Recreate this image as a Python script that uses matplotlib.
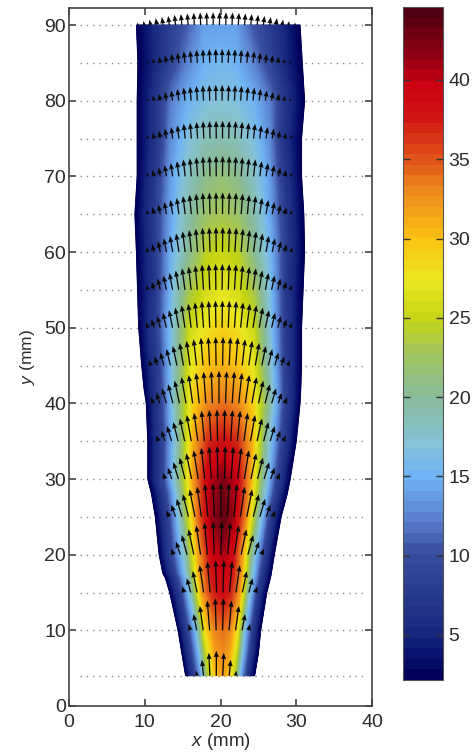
import numpy as np
import matplotlib
matplotlib.use("Agg")
import matplotlib.pyplot as plt
from matplotlib.colors import LinearSegmentedColormap, ListedColormap, Normalize
from matplotlib.cm import ScalarMappable

plt.rcParams['font.family'] = ['Liberation Sans', 'DejaVu Sans']
plt.rcParams['mathtext.fontset'] = 'custom'
plt.rcParams['mathtext.it'] = 'Liberation Sans:italic'
plt.rcParams['mathtext.rm'] = 'Liberation Sans'

# outline of the jet
edge_y = [4, 7, 10, 15, 17, 17.5, 20, 25, 28, 30, 35, 40, 42, 45, 50, 60, 65, 70, 75, 80, 85, 90]
edge_left = [15.4, 14.9, 14.4, 13.3, 12.7, 12.4, 11.9, 11.4, 10.9, 10.4, 10.4, 10.2, 9.9, 9.6, 9.2, 8.9, 8.7, 9.0, 9.0, 9.0, 9.1, 8.9]
edge_right = [24.5, 25.0, 25.3, 26.1, 26.6, 26.7, 27.1, 28.0, 28.8, 29.2, 30.0, 30.5, 30.6, 30.7, 30.7, 31.1, 31.0, 30.7, 30.7, 31.1, 30.8, 30.5]
center_y = [4, 30, 60, 90]
center_x = [20.3, 20.4, 20.3, 20.0]

# field values across the jet, from left edge (-1) to right edge (+1)
field_u = [-1.0, -0.8, -0.6, -0.4, -0.2, 0.0, 0.2, 0.4, 0.6, 0.8, 1.0]
field_y = [4, 10, 15, 20, 25, 30, 35, 40, 45, 50, 55, 60, 65, 70, 75, 80, 85, 90]
field = [
    [2, 7, 14, 24, 30, 32, 30, 24, 14, 7, 2],
    [2, 8, 16, 28, 33, 34, 33, 28, 16, 8, 2],
    [2, 8, 18, 32, 37, 39, 37, 32, 18, 8, 2],
    [2, 9, 18, 31, 39, 41, 39, 31, 18, 9, 2],
    [2, 9, 20, 33, 41, 44, 41, 33, 20, 9, 2],
    [2, 9, 20, 32, 40, 42.5, 40, 32, 20, 9, 2],
    [2, 9, 19, 31, 37, 38.5, 37, 31, 19, 9, 2],
    [2, 9, 20, 29, 33, 34, 33, 29, 20, 9, 2],
    [2, 8, 18, 27, 30, 31, 30, 27, 18, 8, 2],
    [2, 8, 17, 25.5, 28, 29, 28, 25.5, 17, 8, 2],
    [2, 7, 16, 23, 26, 27, 26, 23, 16, 7, 2],
    [2, 7, 15, 20, 24.5, 25.5, 24.5, 20, 15, 7, 2],
    [2, 7, 14, 19, 22, 23, 22, 19, 14, 7, 2],
    [2, 7, 14, 18, 20.5, 21.5, 20.5, 18, 14, 7, 2],
    [2, 6, 13, 16.5, 18.5, 19, 18.5, 16.5, 13, 6, 2],
    [2, 6, 12, 15, 16.5, 17, 16.5, 15, 12, 6, 2],
    [2, 5, 9, 12.5, 15, 15.5, 15, 12.5, 9, 5, 2],
    [2, 5, 8, 10.5, 14, 14, 14, 10.5, 8, 5, 2],
]

# arrow rows
arrow_y = [4, 10, 15, 20, 25, 30, 35, 40, 45, 50, 55, 60, 65, 70, 75, 80, 85, 90]
arrow_left = [16.9, 16.0, 15.2, 13.8, 13.2, 12.7, 11.8, 11.1, 10.8, 10.4, 10.4, 10.4, 10.4, 10.4, 10.4, 10.4, 10.4, 9.1]
arrow_right = [22.0, 23.7, 24.6, 25.4, 26.9, 27.5, 28.3, 28.5, 28.9, 29.2, 29.2, 29.3, 29.3, 29.3, 29.3, 29.2, 29.2, 29.8]
arrow_count = [7, 10, 12, 14, 17, 18, 20, 21, 22, 24, 24, 24, 24, 24, 24, 24, 24, 26]
arrow_peak = [3.3, 4.3, 4.3, 4.4, 4.5, 4.4, 4.2, 4.3, 3.8, 3.6, 3.45, 3.3, 2.9, 2.7, 2.35, 2.1, 1.85, 1.7]
arrow_tilt = [8, 14, 18, 22, 22, 22, 21, 20, 19, 18, 16, 15, 14, 13, 12, 12, 12, 12]
profile_w = [0.0, 0.25, 0.5, 0.75, 1.0]
profile_len = [1.0, 0.97, 0.82, 0.55, 0.2]

# dotted guide lines
dotted_y = [4, 10, 15, 20, 25, 30, 35, 40, 45, 50, 55, 60, 65, 70, 75, 80, 85, 90]

# colorbar
cb_ticks = [5, 10, 15, 20, 25, 30, 35, 40]
vmin, vmax = 2.16, 44.6
cmap_vals = [2.16, 3.5, 5, 8, 10, 12, 15, 17, 20, 23, 25, 27.5, 30, 33, 35, 38, 40, 42, 44.6]
cmap_cols = ['#00005a', '#0a1470', '#1a2a80', '#2c3f92', '#3a4f9f', '#5a7fcf', '#6fb4f5', '#86c3d8', '#88bb9a',
             '#a6c755', '#c4d414', '#ebe820', '#fbc311', '#ee8b1d', '#e25a1a', '#cf1414', '#cc0011', '#8c0014', '#500010']

smooth = LinearSegmentedColormap.from_list(
    'jetlike', [((v - vmin) / (vmax - vmin), c) for v, c in zip(cmap_vals, cmap_cols)])
cmap = ListedColormap(smooth(np.linspace(0, 1, 64)))
norm = Normalize(vmin, vmax)

W, H = 474, 753
fig = plt.figure(figsize=(W / 100, H / 100), dpi=100)
ax = fig.add_axes([69 / W, 1 - 706 / H, 303 / W, 698 / H])
cax = fig.add_axes([403 / W, 1 - 680 / H, 40 / W, 673 / H])

ax.hlines(dotted_y, 1.5, 39, color='#8a8a8a', linestyle=(0, (1, 3.5)), linewidth=1.0, zorder=1)

# resample the table on a fine mesh inside the outline
field = np.array(field, dtype=float)
yy = np.linspace(edge_y[0], edge_y[-1], 350)
uu = np.linspace(-1, 1, 161)
by_u = np.array([np.interp(uu, field_u, row) for row in field])
fine = np.array([np.interp(yy, field_y, by_u[:, j]) for j in range(len(uu))]).T
left = np.interp(yy, edge_y, edge_left)
right = np.interp(yy, edge_y, edge_right)
mid = np.interp(yy, center_y, center_x)
X = np.where(uu[None, :] < 0,
             mid[:, None] + uu[None, :] * (mid - left)[:, None],
             mid[:, None] + uu[None, :] * (right - mid)[:, None])
Y = np.repeat(yy[:, None], len(uu), axis=1)
ax.pcolormesh(X, Y, fine, cmap=smooth, norm=norm, shading='gouraud', zorder=2)

# arrows
qx, qy, qu, qv = [], [], [], []
for y, l, r, n, peak, tilt in zip(arrow_y, arrow_left, arrow_right, arrow_count, arrow_peak, arrow_tilt):
    xs = np.linspace(l, r, n)
    w = (xs - (l + r) / 2) / ((r - l) / 2)
    lens = peak * np.interp(np.abs(w), profile_w, profile_len)
    ang = np.radians(tilt) * w
    qx.extend(xs)
    qy.extend([y] * n)
    qu.extend(lens * np.sin(ang))
    qv.extend(lens * np.cos(ang))
ax.quiver(qx, qy, qu, qv, angles='xy', scale_units='xy', scale=1, units='x', width=0.17,
          headwidth=4.0, headlength=5.0, headaxislength=4.6, minlength=0, color='#0a0a0a', zorder=3)

ax.set_xlim(0, 40)
ax.set_ylim(0, 92.25)
ax.set_xticks([0, 10, 20, 30, 40])
ax.set_yticks([0, 10, 20, 30, 40, 50, 60, 70, 80, 90])
ax.tick_params(direction='in', top=True, right=True, length=5, width=1.1, color='#333333',
               labelsize=14, labelcolor='#2a2a2a', pad=6)
ax.tick_params(axis='y', pad=2)
ax.set_xlabel(r'$\mathit{x}$ (mm)', fontsize=13.5, color='#2a2a2a', labelpad=0)
ax.set_ylabel(r'$\mathit{y}$ (mm)', fontsize=12.5, color='#2a2a2a', labelpad=5)
for s in ax.spines.values():
    s.set_linewidth(1.2)
    s.set_color('#444444')

cb = fig.colorbar(ScalarMappable(norm=norm, cmap=cmap), cax=cax)
cb.set_ticks(cb_ticks)
cb.ax.tick_params(direction='in', length=5, width=1.0, color='#333333', left=True, right=True,
                  labelsize=14, labelcolor='#2a2a2a', pad=4)
cb.outline.set_linewidth(0.8)
cb.outline.set_edgecolor('#555555')

fig.savefig('out.png', dpi=100)
